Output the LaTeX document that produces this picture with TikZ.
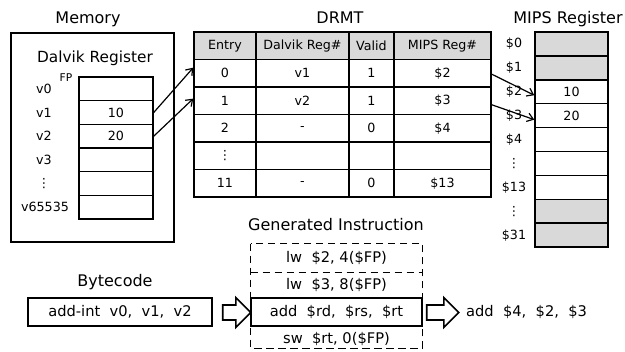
\documentclass[tikz,border=0pt]{standalone}
\usepackage{fontspec}
\setmainfont{DejaVu Sans}
\usetikzlibrary{arrows.meta,positioning,shapes.arrows}
\definecolor{cellgray}{RGB}{217,217,217}
\tikzset{
  title/.style={font=\fontsize{12}{14}\selectfont, inner sep=0pt},
  lbl/.style={font=\fontsize{9.5}{11}\selectfont, inner sep=0pt},
  regcell/.style={draw, line width=1.1pt, inner sep=0pt, minimum width=55.5pt, minimum height=17.75pt, font=\fontsize{9.5}{11}\selectfont},
  mipscell/.style={regcell, minimum width=54.75pt, minimum height=17.9pt},
  drmt/.style={draw, line width=1.1pt, inner sep=0pt, minimum height=20.6pt, font=\fontsize{9.5}{11}\selectfont},
  ecol/.style={drmt, minimum width=46.5pt},
  rcol/.style={drmt, minimum width=69.75pt},
  vcol/.style={drmt, minimum width=33.75pt},
  mcol/.style={drmt, minimum width=72.75pt},
  code/.style={font=\fontsize{11}{13}\selectfont, inner sep=0pt, minimum width=128.25pt},
  link/.style={-{Straight Barb[length=4.5pt,width=6.5pt]}, line width=0.9pt},
  blockarrow/.style={single arrow, draw, line width=1.2pt, inner sep=5pt, single arrow head extend=5.6pt, minimum height=#1}
}
\begin{document}
\begin{tikzpicture}[x=0.75pt,y=0.75pt,yscale=-1,xscale=1]
\useasboundingbox (0,0) rectangle (625,352);
\clip (0,0) rectangle (625,352);
\node[title, anchor=base] (memtitle) at (88,24) {Memory};
\draw[line width=1.6pt] (11,33) rectangle (174,242);
\node[title, font=\fontsize{11.5}{13}\selectfont, anchor=base] (dalvik) at (95,63) {Dalvik Register};
\node[lbl, font=\fontsize{8}{9}\selectfont] (fp) at (66,78) {FP};
\node[regcell] (v0) at (116,88.8) {};
\node[regcell] (v1) at (116,112.5) {10};
\node[regcell] (v2) at (116,136.2) {20};
\node[regcell] (v3) at (116,159.8) {};
\node[regcell] (v4) at (116,183.5) {};
\node[regcell] (v5) at (116,207.2) {};
\node[lbl] (lv0) at (44,88.8) {v0};
\node[lbl] (lv1) at (44,112.5) {v1};
\node[lbl] (lv2) at (44,136.2) {v2};
\node[lbl] (lv3) at (44,159.8) {v3};
\node[lbl] (lv4) at (44,183.5) {⋮};
\node[lbl] (lv5) at (45,207.2) {v65535};
\node[title, anchor=base] (drmttitle) at (340,24) {DRMT};
\node[ecol, fill=cellgray] (hent) at (225,45.75) {Entry};
\node[rcol, fill=cellgray] (hreg) at (302.5,45.75) {Dalvik Reg\#};
\node[vcol, fill=cellgray] (hval) at (371.5,45.75) {Valid};
\node[mcol, fill=cellgray] (hmips) at (442.5,45.75) {MIPS Reg\#};
\node[ecol] (ent0) at (225,73.25) {0};
\node[rcol] (reg0) at (302.5,73.25) {v1};
\node[vcol] (val0) at (371.5,73.25) {1};
\node[mcol] (mr0) at (442.5,73.25) {\$2};
\node[ecol] (ent1) at (225,100.75) {1};
\node[rcol] (reg1) at (302.5,100.75) {v2};
\node[vcol] (val1) at (371.5,100.75) {1};
\node[mcol] (mr1) at (442.5,100.75) {\$3};
\node[ecol] (ent2) at (225,128.25) {2};
\node[rcol] (reg2) at (302.5,128.25) {-};
\node[vcol] (val2) at (371.5,128.25) {0};
\node[mcol] (mr2) at (442.5,128.25) {\$4};
\node[ecol] (ent3) at (225,155.75) {⋮};
\node[rcol] (reg3) at (302.5,155.75) {};
\node[vcol] (val3) at (371.5,155.75) {};
\node[mcol] (mr3) at (442.5,155.75) {};
\node[ecol] (ent4) at (225,183.25) {11};
\node[rcol] (reg4) at (302.5,183.25) {-};
\node[vcol] (val4) at (371.5,183.25) {0};
\node[mcol] (mr4) at (442.5,183.25) {\$13};
\node[title, anchor=base] (mipstitle) at (568,24) {MIPS Register};
\node[mipscell, fill=cellgray] (s0) at (571.5,43.95) {};
\node[mipscell, fill=cellgray] (s1) at (571.5,67.85) {};
\node[mipscell] (s2) at (571.5,91.75) {10};
\node[mipscell] (s3) at (571.5,115.65) {20};
\node[mipscell] (s4) at (571.5,139.55) {};
\node[mipscell] (s5) at (571.5,163.45) {};
\node[mipscell] (s6) at (571.5,187.35) {};
\node[mipscell, fill=cellgray] (s7) at (571.5,211.25) {};
\node[mipscell, fill=cellgray] (s8) at (571.5,235.15) {};
\node[lbl] (ls0) at (514,43.95) {\$0};
\node[lbl] (ls1) at (514,67.85) {\$1};
\node[lbl] (ls2) at (514,91.75) {\$2};
\node[lbl] (ls3) at (514,115.65) {\$3};
\node[lbl] (ls4) at (514,139.55) {\$4};
\node[lbl] (ls5) at (514,163.45) {⋮};
\node[lbl] (ls6) at (514,187.35) {\$13};
\node[lbl] (ls7) at (514,211.25) {⋮};
\node[lbl] (ls8) at (514,235.15) {\$31};
\draw[link] (v1.east) -- ([yshift=-4.2pt]ent0.west);
\draw[link] (v2.east) -- ([yshift=-1.6pt]ent1.west);
\draw[link] ([yshift=0.7pt]mr0.east) -- ([yshift=2.6pt]s2.west);
\draw[link] ([yshift=3pt]mr1.east) -- ([yshift=3pt]s3.west);
\node[title, anchor=base] (bctitle) at (115,287) {Bytecode};
\node[draw, line width=1.4pt, minimum width=138pt, minimum height=21pt, inner sep=0pt, font=\fontsize{11}{13}\selectfont] (bc) at (120,312) {add-int\ \ v0,\ \ v1,\ \ v2};
\node[blockarrow=21pt] (ba1) at (233,312.5) {};
\node[title, anchor=base] (gentitle) at (336,231) {Generated Instruction};
\node[code, minimum height=21pt] (g1) at (336.5,258) {lw\ \ \$2, 4(\$FP)};
\node[code, minimum height=19.5pt] (g2) at (336.5,285) {lw\ \ \$3, 8(\$FP)};
\node[code, minimum height=21pt, draw, line width=1.1pt] (g3) at (336.5,312) {add\ \ \$rd,\ \ \$rs,\ \ \$rt};
\node[code, minimum height=19.5pt] (g4) at (336.5,339) {sw\ \ \$rt, 0(\$FP)};
\draw[line width=1.1pt, dash pattern=on 5.5pt off 3.5pt] (g1.north west) rectangle ([yshift=-3pt]g4.south east);
\draw[line width=1.1pt, dash pattern=on 5.5pt off 3.5pt] (g1.south west) -- (g1.south east);
\node[blockarrow=24pt] (ba2) at (439,312.5) {};
\node[inner sep=0pt, font=\fontsize{11}{13}\selectfont, right=4.5pt of ba2] (res) {add\ \ \$4,\ \ \$2,\ \ \$3};
\end{tikzpicture}
\end{document}
